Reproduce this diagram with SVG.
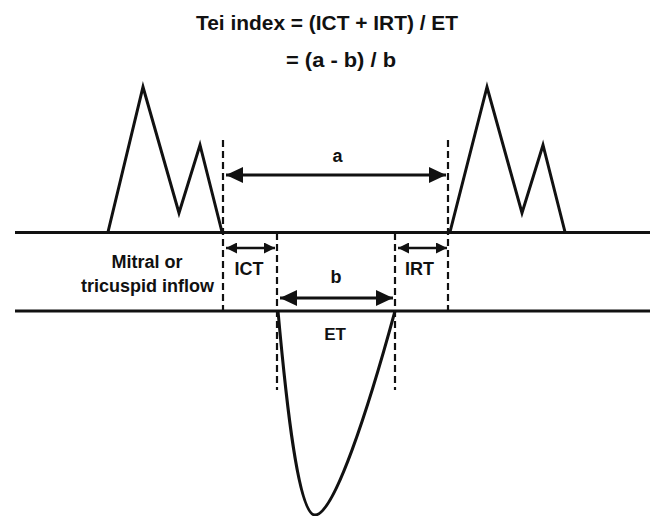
<svg xmlns="http://www.w3.org/2000/svg" width="655" height="516" viewBox="0 0 655 516">
<style>
  text { font-family: "Liberation Sans", Arial, sans-serif; font-weight: bold; fill: #111; }
  .line { stroke: #111; stroke-width: 3; fill: none; }
  .wave { stroke: #111; stroke-width: 3; fill: none; stroke-linejoin: miter; }
  .dash { stroke: #111; stroke-width: 2.2; stroke-dasharray: 7 4; fill: none; }
  .arrowL { stroke: #111; stroke-width: 3; fill: none; marker-start: url(#hb); marker-end: url(#hb); }
  .arrowS { stroke: #111; stroke-width: 2.5; fill: none; marker-start: url(#hs); marker-end: url(#hs); }
</style>
<defs>
  <marker id="hb" markerUnits="userSpaceOnUse" markerWidth="18" markerHeight="16" refX="17" refY="8" orient="auto-start-reverse">
    <path d="M0,0 L17,8 L0,16 Z" fill="#111"/>
  </marker>
  <marker id="hs" markerUnits="userSpaceOnUse" markerWidth="12" markerHeight="11" refX="11" refY="5.5" orient="auto-start-reverse">
    <path d="M0,0 L11,5.5 L0,11 Z" fill="#111"/>
  </marker>
</defs>
<rect width="655" height="516" fill="#fff"/>

<g id="title">
  <text x="196" y="30" font-size="21" textLength="262" lengthAdjust="spacingAndGlyphs">Tei index = (ICT + IRT) / ET</text>
  <text x="286" y="67" font-size="21" textLength="110" lengthAdjust="spacingAndGlyphs">= (a - b) / b</text>
</g>

<g id="baselines">
  <line class="line" x1="15" y1="232.5" x2="650" y2="232.5"/>
  <line class="line" x1="15" y1="311" x2="650" y2="311"/>
</g>

<g id="mitral-left">
  <polyline class="wave" points="108,232 143,87 179,213 200,145 222,232"/>
</g>
<g id="mitral-right">
  <polyline class="wave" points="450,232 487,87 522,213 543,145 565,232"/>
</g>
<g id="ejection">
  <path class="wave" d="M278,311 C286,400 298,515 315,515 C334,515 368,410 395,311"/>
</g>

<g id="guides">
  <line class="dash" x1="223" y1="140" x2="223" y2="311"/>
  <line class="dash" x1="448" y1="140" x2="448" y2="311"/>
  <line class="dash" x1="277" y1="233" x2="277" y2="390"/>
  <line class="dash" x1="395" y1="233" x2="395" y2="390"/>
</g>

<g id="connectors">
  <line class="arrowL" x1="226" y1="175" x2="446" y2="175"/>
  <line class="arrowS" x1="226" y1="248" x2="275" y2="248"/>
  <line class="arrowS" x1="398" y1="248" x2="447" y2="248"/>
  <line class="arrowL" x1="280" y1="298" x2="393" y2="298"/>
</g>

<g id="labels">
  <text x="337.5" y="162" font-size="18" text-anchor="middle">a</text>
  <text x="249" y="275" font-size="18" text-anchor="middle">ICT</text>
  <text x="419.5" y="275" font-size="18" text-anchor="middle">IRT</text>
  <text x="336" y="283" font-size="18" text-anchor="middle">b</text>
  <text x="335" y="340" font-size="17" text-anchor="middle">ET</text>
  <text x="147" y="268" font-size="18" text-anchor="middle">Mitral or</text>
  <text x="147.5" y="292" font-size="18" text-anchor="middle">tricuspid inflow</text>
</g>
</svg>
